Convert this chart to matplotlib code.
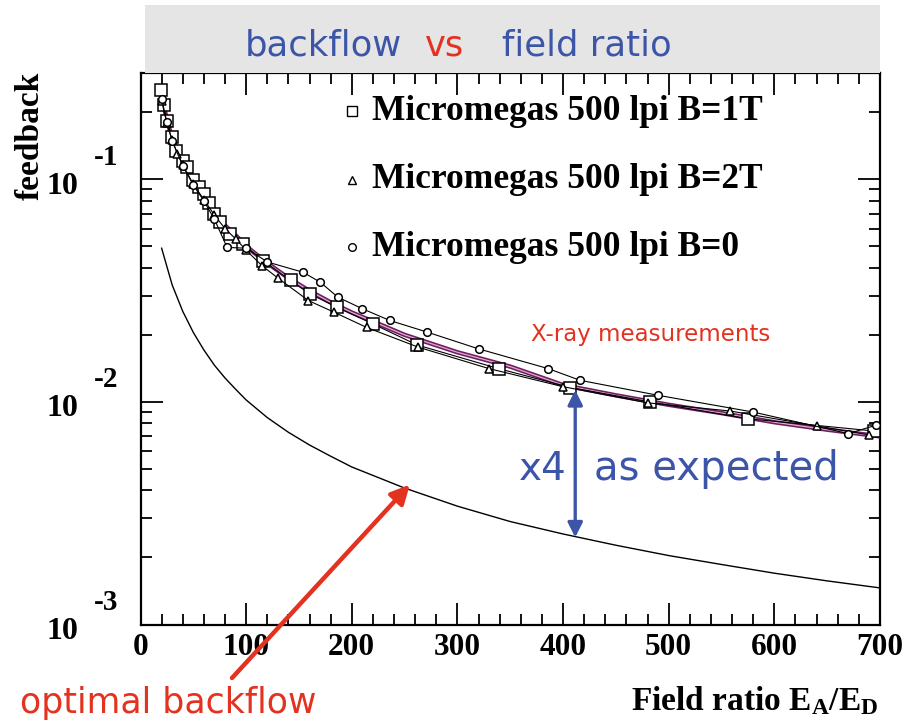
import numpy as np
import matplotlib
matplotlib.use("Agg")
import matplotlib.pyplot as plt
from matplotlib.patches import Rectangle

plt.rcParams['mathtext.fontset'] = 'custom'
plt.rcParams['mathtext.rm'] = 'Liberation Serif:bold'
plt.rcParams['mathtext.bf'] = 'Liberation Serif:bold'
plt.rcParams['mathtext.it'] = 'Liberation Serif:bold'

# ---------------- data ----------------
labels = ["Micromegas 500 lpi B=1T", "Micromegas 500 lpi B=2T", "Micromegas 500 lpi B=0"]

x_b1 = [19, 22, 25, 30, 34, 40, 44, 50, 55, 60, 65, 70, 75, 85, 97, 116, 142, 160, 186, 220, 262, 339, 407, 482, 575, 694]
y_b1 = [0.251, 0.215, 0.183, 0.154, 0.134, 0.121, 0.113, 0.099, 0.092, 0.086, 0.078, 0.070, 0.064, 0.0568, 0.0512,
        0.0431, 0.0351, 0.0306, 0.0266, 0.0224, 0.0180, 0.0141, 0.0116, 0.0100, 0.0084, 0.0074]

x_b2 = [20, 25, 30, 35, 40, 50, 60, 70, 80, 90, 100, 115, 130, 159, 183, 214, 263, 330, 400, 480, 558, 640, 690]
y_b2 = [0.225, 0.178, 0.150, 0.130, 0.116, 0.095, 0.081, 0.069, 0.060, 0.054, 0.048, 0.0409, 0.036, 0.0285, 0.0253,
        0.0216, 0.0176, 0.0141, 0.0117, 0.0099, 0.0091, 0.0078, 0.0071]

x_b0 = [20, 25, 30, 40, 50, 60, 70, 82, 100, 120, 154, 170, 187, 210, 236, 271, 320, 386, 416, 490, 580, 670, 696]
y_b0 = [0.230, 0.180, 0.148, 0.115, 0.094, 0.080, 0.066, 0.0494, 0.049, 0.0425, 0.0382, 0.0345, 0.0295, 0.0262,
        0.0232, 0.0206, 0.0173, 0.0141, 0.0125, 0.0107, 0.0090, 0.0072, 0.00785]

fit_x = [20, 25, 30, 40, 50, 60, 70, 80, 90, 100, 120, 140, 160, 180, 200, 250, 300, 350, 400, 450, 500, 550, 600, 650, 700]
fit_y = [0.235, 0.185, 0.152, 0.118, 0.097, 0.083, 0.071, 0.062, 0.056, 0.050, 0.042, 0.036, 0.0315, 0.028, 0.0252,
         0.0200, 0.0167, 0.0144, 0.0119, 0.0107, 0.0097, 0.0089, 0.0081, 0.0075, 0.0070]

opt_x = [20, 30, 40, 50, 60, 70, 80, 90, 100, 120, 140, 160, 180, 200, 250, 300, 350, 400, 450, 500, 550, 600, 650, 700]
opt_y = [0.049, 0.0335, 0.0255, 0.0205, 0.0171, 0.0146, 0.0128, 0.0114, 0.0102, 0.0085, 0.0073, 0.0064, 0.0057,
         0.0051, 0.0041, 0.0034, 0.0029, 0.00255, 0.00227, 0.00204, 0.00186, 0.00170, 0.00157, 0.00146]

xticks = [0, 100, 200, 300, 400, 500, 600, 700]
ydecades = [1e-3, 1e-2, 1e-1]
ydecade_exp = ["-3", "-2", "-1"]

# ---------------- figure ----------------
W, H = 907, 722
fig = plt.figure(figsize=(W / 100, H / 100), dpi=100)
fig.patch.set_facecolor('white')

def fx(px):
    return px / W

def fy(py):
    return 1 - py / H

# title box
fig.patches.append(Rectangle((fx(145), fy(73)), fx(880) - fx(145), fy(5) - fy(73),
                             transform=fig.transFigure, facecolor='#e5e5e5', edgecolor='none', zorder=0))
blue = '#3d55a8'
red = '#e3321f'
tfont = dict(family='DejaVu Sans', fontsize=25.5)
fig.text(fx(245), fy(56), "backflow", color=blue, ha='left', va='baseline', **tfont)
fig.text(fx(425), fy(56), "vs", color=red, ha='left', va='baseline', **tfont)
fig.text(fx(502), fy(56), "field ratio", color=blue, ha='left', va='baseline', **tfont)

L, R, T, B = 140.5, 880, 73, 624.5
ax = fig.add_axes([fx(L), fy(B), fx(R) - fx(L), fy(T) - fy(B)])
ax.set_yscale('log')
ax.set_xlim(0, 700)
ax.set_ylim(1e-3, 0.3)

# lower (optimal) curve
ax.plot(opt_x, opt_y, color='black', lw=1.0, zorder=3)

# fit curves
ax.plot(fit_x, fit_y, color='#6e1f5e', lw=3.2, zorder=4)
ax.plot(fit_x, fit_y, color='#e6a6d8', lw=0.9, zorder=5)

# data series
mk = dict(mfc='white', mec='black', mew=1.1, color='black', lw=0.8, zorder=6)
ax.plot(x_b1, y_b1, marker='s', ms=8, **mk)
ax.plot(x_b2, y_b2, marker='^', ms=6, **mk)
ax.plot(x_b0, y_b0, marker='o', ms=5.5, **mk)

# manual legend
leg_markers = ['s', '^', 'o']
leg_ms = [6.5, 5.5, 5.5]
leg_y = [111, 180, 247]
for lab, m, ms, py in zip(labels, leg_markers, leg_ms, leg_y):
    yy = (B - py) / (B - T)
    ax.plot([(352 - L) / (R - L)], [yy], marker=m, ms=ms, mfc='white', mec='black', mew=1.0,
            transform=ax.transAxes, clip_on=False, zorder=7)
    ax.text((372 - L) / (R - L), yy, lab, transform=ax.transAxes, ha='left', va='center',
            family='Liberation Serif', weight='bold', fontsize=25.5, zorder=7)

# ticks
ax.set_xticks(xticks)
ax.set_xticks(np.arange(0, 701, 20), minor=True)
ax.tick_params(which='both', direction='in', top=True, right=True, width=1.3)
ax.tick_params(which='major', length=16)
ax.tick_params(which='minor', length=8)
ax.set_xticklabels([str(v) for v in xticks], family='Liberation Serif', weight='bold', fontsize=22.5)
ax.tick_params(axis='x', pad=6)
ax.set_yticklabels([])
ax.yaxis.set_minor_formatter(matplotlib.ticker.NullFormatter())
for s in ax.spines.values():
    s.set_linewidth(1.6)

for val, ex in zip(ydecades, ydecade_exp):
    ax.annotate("10", xy=(0, val), xycoords=('axes fraction', 'data'), xytext=(62 - L, -7),
                textcoords='offset pixels', ha='center', va='center', family='Liberation Serif',
                weight='bold', fontsize=23, annotation_clip=False)
    ax.annotate(ex, xy=(0, val), xycoords=('axes fraction', 'data'), xytext=(106 - L, 22),
                textcoords='offset pixels', ha='center', va='center', family='Liberation Serif',
                weight='bold', fontsize=21, annotation_clip=False)

# axis labels
fig.text(fx(30), fy(72), "feedback", rotation=90, ha='center', va='top', family='Liberation Serif',
         weight='bold', fontsize=24)
fig.text(fx(878), fy(710), r"Field ratio E$_{\mathrm{A}}$/E$_{\mathrm{D}}$", ha='right', va='baseline',
         family='Liberation Serif', weight='bold', fontsize=24)

# annotations
ax.text(370, 0.01875, "X-ray measurements", color=red, ha='left', va='baseline',
        family='DejaVu Sans', fontsize=16.5, zorder=8)
ax.annotate('', xy=(411.5, 0.0113), xytext=(411.5, 0.00246),
            arrowprops=dict(arrowstyle='<|-|>', color=blue, lw=2.4, mutation_scale=22, shrinkA=0, shrinkB=0),
            zorder=8)
ax.text(381, 0.00445, "x4", color=blue, ha='center', va='baseline', family='DejaVu Sans', fontsize=28, zorder=8)
ax.text(429, 0.00445, "as expected", color=blue, ha='left', va='baseline', family='DejaVu Sans', fontsize=29,
        zorder=8)
ax.annotate('', xy=(255, 0.00425), xytext=(86.6, 5.75e-4),
            arrowprops=dict(arrowstyle='-|>', color=red, lw=3.2, mutation_scale=28, shrinkA=0, shrinkB=0),
            annotation_clip=False, zorder=9)
fig.text(fx(20), fy(713), "optimal backflow", color=red, ha='left', va='baseline', family='DejaVu Sans',
         fontsize=25)

fig.savefig("out.png", dpi=100)
